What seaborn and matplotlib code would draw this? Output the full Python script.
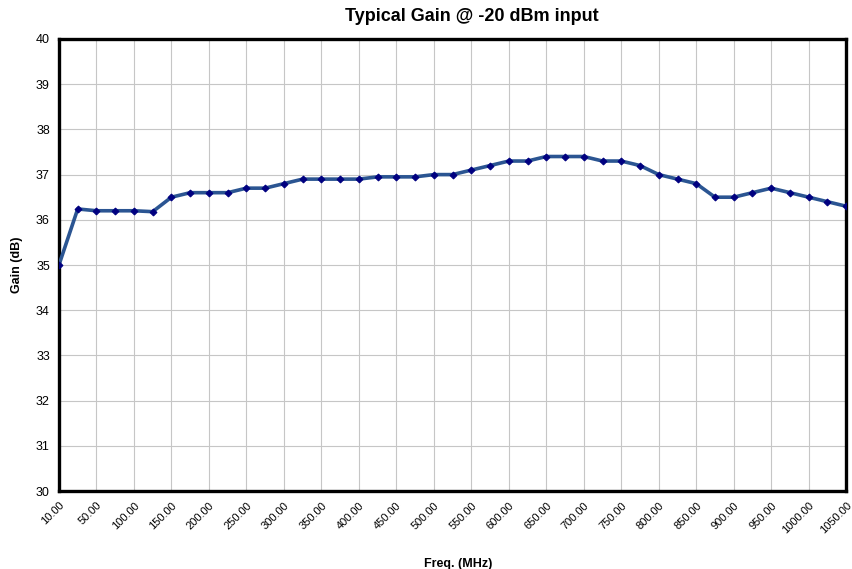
import numpy as np
import pandas as pd
import matplotlib
matplotlib.use('Agg')
import matplotlib.pyplot as plt
import seaborn as sns

# frequency points (MHz) - category axis, labels shown every other point
freq = [10, 30, 50, 75, 100, 125, 150, 175, 200, 225, 250, 275, 300, 325,
        350, 375, 400, 425, 450, 475, 500, 525, 550, 575, 600, 625, 650, 675,
        700, 725, 750, 775, 800, 825, 850, 875, 900, 925, 950, 975, 1000,
        1025, 1050]
gain = [35.0, 36.24, 36.2, 36.2, 36.2, 36.18, 36.5, 36.6, 36.6, 36.6, 36.7,
        36.7, 36.8, 36.9, 36.9, 36.9, 36.9, 36.95, 36.95, 36.95, 37.0, 37.0,
        37.1, 37.2, 37.3, 37.3, 37.4, 37.4, 37.4, 37.3, 37.3, 37.2, 37.0,
        36.9, 36.8, 36.5, 36.5, 36.6, 36.7, 36.6, 36.5, 36.4, 36.3]

df = pd.DataFrame({'pos': range(len(freq)), 'Freq': freq, 'Gain': gain})

sns.set_style('white')
plt.rcParams['font.family'] = ['Liberation Sans', 'DejaVu Sans']

fig = plt.figure(figsize=(8.52, 5.69), dpi=100)
ax = fig.add_axes([0.0692, 0.137, 0.924, 0.7945])

sns.lineplot(data=df, x='pos', y='Gain', ax=ax, color='#2b5592', lw=2.6,
             marker='D', markersize=3.5, markerfacecolor='#000080',
             markeredgecolor='#000080', zorder=3)

ax.set_xlim(0, len(freq) - 1)
ax.set_ylim(30, 40)
ax.set_yticks(range(30, 41))

tick_pos = list(range(0, len(freq), 2))
ax.set_xticks(tick_pos)
ax.set_xticklabels(['%.2f' % freq[i] for i in tick_pos], rotation=45,
                   ha='right', rotation_mode='anchor', fontsize=8)
ax.tick_params(axis='y', labelsize=9)
ax.tick_params(axis='both', length=3, width=0.8, direction='out',
               color='#808080', labelcolor='black')

# light gray gridlines at every labelled tick
for p in tick_pos[1:-1]:
    ax.axvline(p, color='#c6c6c6', lw=0.8, zorder=1)
for v in range(31, 40):
    ax.axhline(v, color='#c6c6c6', lw=0.8, zorder=1)

for s in ax.spines.values():
    s.set_color('black')
    s.set_linewidth(2.4)

ax.set_title('Typical Gain @ -20 dBm input', fontsize=13, fontweight='bold',
             x=0.524, pad=13, color='black')
ax.set_xlabel('Freq. (MHz)', fontsize=9, fontweight='bold', labelpad=14,
              color='black')
ax.xaxis.set_label_coords(0.507, -0.148)
ax.set_ylabel('Gain (dB)', fontsize=9, fontweight='bold', labelpad=9,
              color='black')

fig.savefig('out.png', dpi=100)
